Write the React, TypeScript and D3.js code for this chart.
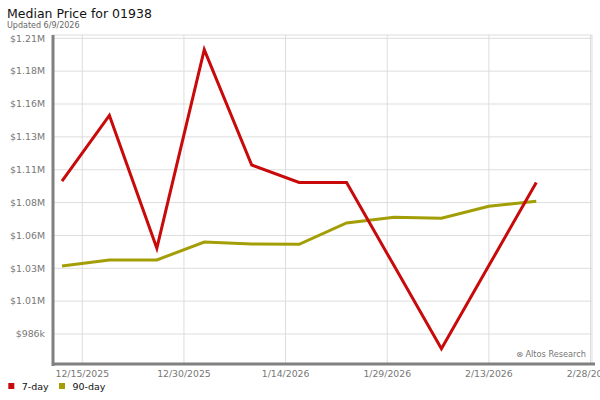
import * as d3 from "d3";

// weekly points, 12/12/2025 .. 2/20/2026
const weeks = [
  "2025-12-12", "2025-12-19", "2025-12-26", "2026-01-02", "2026-01-09", "2026-01-16",
  "2026-01-23", "2026-01-30", "2026-02-06", "2026-02-13", "2026-02-20",
];
const sevenDay = [1100000, 1149000, 1050000, 1198000, 1112000, 1099000, 1099000, 1037000, 975000, 1037000, 1099000];
const ninetyDay = [1036700, 1041200, 1041200, 1054600, 1053100, 1052900, 1068800, 1073000, 1072300, 1081200, 1085000];

const yTicks = [986000, 1010500, 1035000, 1059500, 1084000, 1108500, 1133000, 1157500, 1182000, 1206500];
const yTickLabels = ["$986k", "$1.01M", "$1.03M", "$1.06M", "$1.08M", "$1.11M", "$1.13M", "$1.16M", "$1.18M", "$1.21M"];
const xTicks = ["2025-12-15", "2025-12-30", "2026-01-14", "2026-01-29", "2026-02-13", "2026-02-28"];

const series = [
  { name: "7-day", values: sevenDay, color: "#c80a0a" },
  { name: "90-day", values: ninetyDay, color: "#a39e05" },
];

const W = 600;
const H = 400;
const frame = { left: 53, right: 592, top: 35, bottom: 364 };
const font = "DejaVu Sans, sans-serif";

const parse = d3.utcParse("%Y-%m-%d");
const fmt = d3.utcFormat("%-m/%-d/%Y");

export default function App() {
  const x = d3.scaleUtc()
    .domain([parse(xTicks[0])!, parse(xTicks[xTicks.length - 1])!])
    .range([82.3, 590.5]);
  const y = d3.scaleLinear()
    .domain([yTicks[0], yTicks[yTicks.length - 1]])
    .range([334, 38.3]);

  const line = d3.line<number>()
    .x((_, i) => x(parse(weeks[i])!))
    .y(d => y(d));

  return (
    <svg width={W} height={H} style={{ position: "absolute", left: 0, top: 0, background: "#fff" }} fontFamily={font}>
      <text x={7} y={18} fontSize={12.5} fill="#111">Median Price for 01938</text>
      <text x={7} y={28} fontSize={8} fill="#666">Updated 6/9/2026</text>

      {/* frame */}
      <rect x={frame.left} y={frame.top} width={frame.right - frame.left} height={frame.bottom - frame.top}
        fill="none" stroke="#ddd" strokeWidth={1} />

      {/* grid */}
      {yTicks.map(t => (
        <line key={t} x1={frame.left} x2={frame.right} y1={y(t)} y2={y(t)} stroke="#ddd" strokeWidth={1} />
      ))}
      {xTicks.map(t => (
        <line key={t} x1={x(parse(t)!)} x2={x(parse(t)!)} y1={frame.top} y2={frame.bottom} stroke="#ddd" strokeWidth={1} />
      ))}

      {/* axes */}
      <line x1={frame.left} x2={frame.left} y1={frame.top} y2={frame.bottom + 2} stroke="#808080" strokeWidth={3} />
      <line x1={frame.left} x2={595} y1={frame.bottom} y2={frame.bottom} stroke="#808080" strokeWidth={3} />

      {yTicks.map((t, i) => (
        <text key={t} x={45} y={y(t)} dy="0.35em" textAnchor="end" fontSize={9.4} fill="#777">{yTickLabels[i]}</text>
      ))}
      {xTicks.map(t => (
        <text key={t} x={x(parse(t)!)} y={377} textAnchor="middle" fontSize={9.3} fill="#777">{fmt(parse(t)!)}</text>
      ))}

      {/* series, 90-day under 7-day */}
      {[...series].reverse().map(s => (
        <path key={s.name} d={line(s.values)!} fill="none" stroke={s.color} strokeWidth={3} strokeLinejoin="miter" />
      ))}

      <text x={586} y={357} textAnchor="end" fontSize={8.2} fill="#777">⊗ Altos Research</text>

      {/* legend */}
      {series.map((s, i) => (
        <g key={s.name} transform={`translate(${8.3 + i * 50.7},383)`}>
          <rect width={6} height={6} fill={s.color} />
          <text x={13.4} y={7} fontSize={9.5} fill="#111">{s.name}</text>
        </g>
      ))}
    </svg>
  );
}
